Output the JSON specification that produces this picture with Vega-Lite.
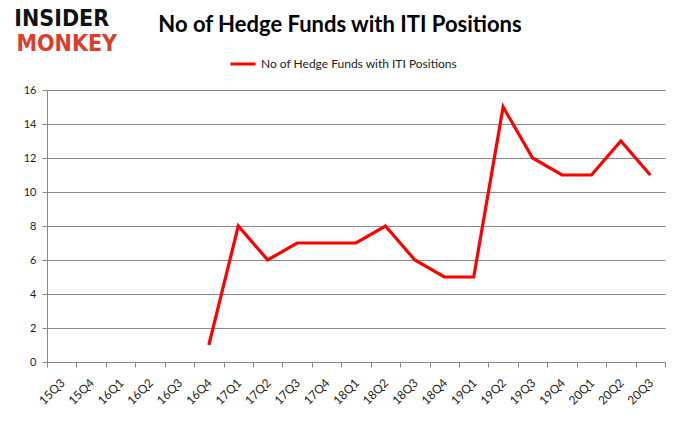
{
  "$schema": "https://vega.github.io/schema/vega-lite/v6.json",
  "width": 618,
  "height": 272,
  "autosize": "none",
  "padding": {"left": 47, "top": 90, "right": 15, "bottom": 71},
  "background": "white",
  "config": {"font": "Lato", "view": {"stroke": null}},
  "title": {
    "text": "No of Hedge Funds with ITI Positions",
    "fontSize": 22,
    "fontWeight": "bold",
    "font": "Lato",
    "color": "#000000",
    "anchor": "middle",
    "frame": "group",
    "dx": -16,
    "offset": 0,
    "dy": 29
  },
  "datasets": {
    "funds": [
      {"quarter": "15Q3", "funds": null},
      {"quarter": "15Q4", "funds": null},
      {"quarter": "16Q1", "funds": null},
      {"quarter": "16Q2", "funds": null},
      {"quarter": "16Q3", "funds": null},
      {"quarter": "16Q4", "funds": 1},
      {"quarter": "17Q1", "funds": 8},
      {"quarter": "17Q2", "funds": 6},
      {"quarter": "17Q3", "funds": 7},
      {"quarter": "17Q4", "funds": 7},
      {"quarter": "18Q1", "funds": 7},
      {"quarter": "18Q2", "funds": 8},
      {"quarter": "18Q3", "funds": 6},
      {"quarter": "18Q4", "funds": 5},
      {"quarter": "19Q1", "funds": 5},
      {"quarter": "19Q2", "funds": 15},
      {"quarter": "19Q3", "funds": 12},
      {"quarter": "19Q4", "funds": 11},
      {"quarter": "20Q1", "funds": 11},
      {"quarter": "20Q2", "funds": 13},
      {"quarter": "20Q3", "funds": 11}
    ],
    "logo": [
      {"word": "INSIDER", "color": "black"},
      {"word": "MONKEY", "color": "red"}
    ]
  },
  "resolve": {"scale": {"y": "independent"}, "axis": {"y": "independent"}},
  "layer": [
    {
      "data": {"name": "funds"},
      "mark": {"type": "line", "color": "#ff0000", "strokeWidth": 3.2},
      "encoding": {
        "x": {
          "field": "quarter",
          "type": "ordinal",
          "sort": null,
          "scale": {"type": "band", "paddingInner": 0, "paddingOuter": 0},
          "axis": {
            "title": null,
            "labelAngle": -45,
            "labelFontSize": 12,
            "labelColor": "#222222",
            "labelFont": "Lato",
            "tickBand": "extent",
            "domainColor": "#888888",
            "tickColor": "#888888",
            "tickSize": 5,
            "labelPadding": 10,
            "labelOffset": -3,
            "grid": false
          }
        },
        "y": {
          "field": "funds",
          "type": "quantitative",
          "scale": {"domain": [0, 16], "nice": false},
          "axis": {
            "title": null,
            "values": [0, 2, 4, 6, 8, 10, 12, 14, 16],
            "labelOverlap": false,
            "labelFontSize": 11,
            "labelColor": "#222222",
            "labelFont": "Lato",
            "gridColor": "#888888",
            "gridWidth": 1,
            "domainColor": "#888888",
            "tickColor": "#888888",
            "tickSize": 5,
            "labelPadding": 6
          }
        },
        "color": {
          "datum": "No of Hedge Funds with ITI Positions",
          "scale": {"range": ["#ff0000"]},
          "legend": {
            "title": null,
            "orient": "none",
            "legendX": 182,
            "legendY": -40,
            "symbolType": "stroke",
            "symbolStrokeWidth": 3,
            "symbolSize": 625,
            "labelFontSize": 12,
            "labelLimit": 0,
            "labelFont": "Lato",
            "labelColor": "#222222"
          }
        }
      }
    },
    {
      "data": {"name": "logo"},
      "transform": [{"filter": "datum.word === 'INSIDER'"}],
      "mark": {"type": "text", "font": "DejaVu Sans Condensed", "fontWeight": "bold", "fontSize": 23, "color": "#111111", "align": "center", "baseline": "middle", "dx": 0, "clip": false},
      "encoding": {
        "text": {"field": "word"},
        "x": {"datum": "15Q3"},
        "y": {"datum": 20.2, "type": "quantitative", "scale": {"domain": [0, 16], "nice": false}, "axis": null}
      }
    },
    {
      "data": {"name": "logo"},
      "transform": [{"filter": "datum.word === 'MONKEY'"}],
      "mark": {"type": "text", "font": "DejaVu Sans Condensed", "fontWeight": "bold", "fontSize": 23, "color": "#d6402c", "align": "center", "baseline": "middle", "dx": 5, "clip": false},
      "encoding": {
        "text": {"field": "word"},
        "x": {"datum": "15Q3"},
        "y": {"datum": 18.7, "type": "quantitative", "scale": {"domain": [0, 16], "nice": false}, "axis": null}
      }
    }
  ]
}
